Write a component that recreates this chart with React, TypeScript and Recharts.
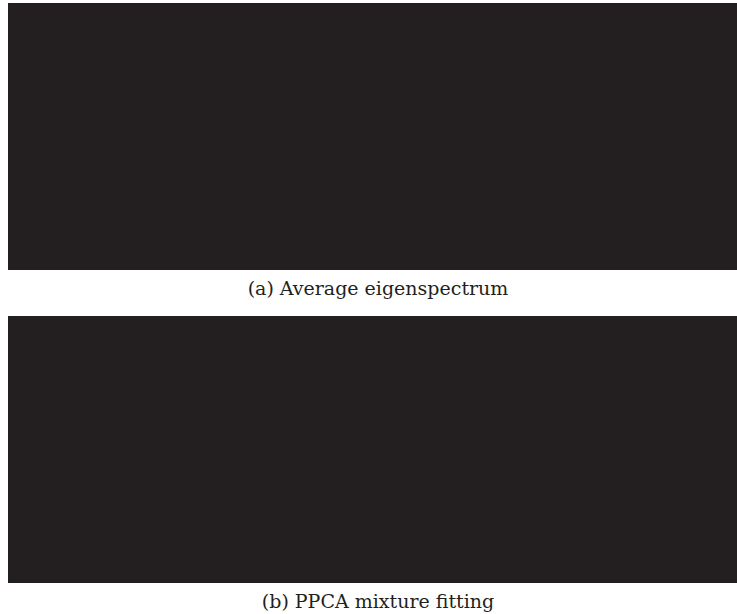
import React from "react";
import { BarChart, Bar, XAxis, YAxis } from "recharts";

// Each panel in the reference is a single solid dark block filling its plot area.
const panelNames = ["a", "b"];
const panelValues = [1, 1];
const captions = ["(a) Average eigenspectrum", "(b) PPCA mixture fitting"];

const FILL = "#231f20";
const PANEL_W = 729;
const PANEL_H = 267;
const PANEL_LEFT = 8;
const PANEL_TOPS = [3, 316];
const CAPTION_BASELINES = [295, 608];
const CAPTION_X = 378;

function Panel({ name, value }: { name: string; value: number }) {
  const data = [{ name, value }];
  return (
    <BarChart
      width={PANEL_W}
      height={PANEL_H}
      data={data}
      margin={{ top: 0, right: 0, bottom: 0, left: 0 }}
      barCategoryGap={0}
      barGap={0}
    >
      <XAxis dataKey="name" hide />
      <YAxis hide domain={[0, 1]} />
      <Bar dataKey="value" fill={FILL} isAnimationActive={false} />
    </BarChart>
  );
}

export default function App() {
  return (
    <div
      style={{
        position: "absolute",
        left: 0,
        top: 0,
        width: 737,
        height: 614,
        background: "#ffffff",
        overflow: "hidden",
      }}
    >
      {panelNames.map((n, i) => (
        <div
          key={n}
          style={{ position: "absolute", left: PANEL_LEFT, top: PANEL_TOPS[i] }}
        >
          <Panel name={n} value={panelValues[i]} />
        </div>
      ))}
      <svg
        width={737}
        height={614}
        style={{ position: "absolute", left: 0, top: 0, pointerEvents: "none" }}
      >
        {captions.map((c, i) => (
          <text
            key={c}
            x={CAPTION_X}
            y={CAPTION_BASELINES[i]}
            textAnchor="middle"
            fontFamily="'DejaVu Serif', serif"
            fontSize={19}
            fill="#231f20"
          >
            {c}
          </text>
        ))}
      </svg>
    </div>
  );
}
